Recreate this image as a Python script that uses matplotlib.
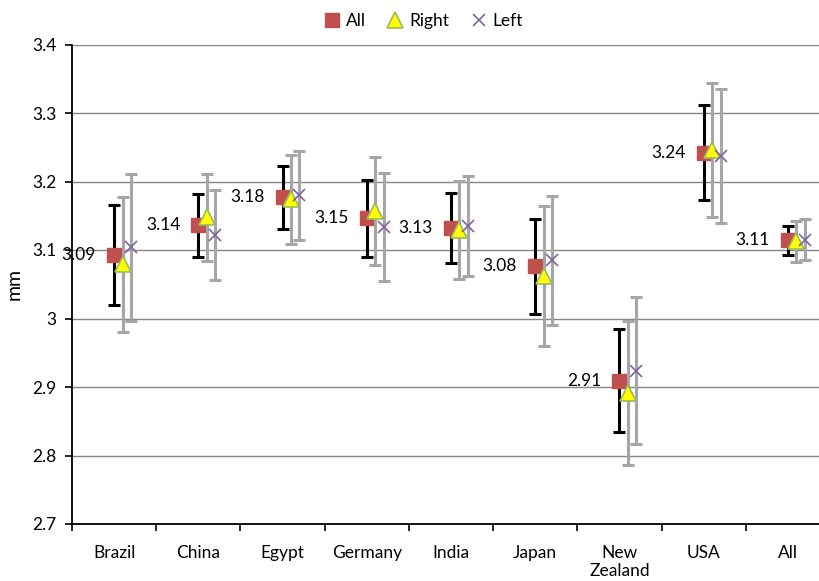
import matplotlib
matplotlib.use("Agg")
import matplotlib.pyplot as plt
import numpy as np

categories = ["Brazil", "China", "Egypt", "Germany", "India", "Japan", "New\nZealand", "USA", "All"]
all_mean = [3.092, 3.136, 3.177, 3.146, 3.132, 3.076, 2.909, 3.242, 3.114]
all_err = [0.073, 0.046, 0.046, 0.056, 0.051, 0.069, 0.075, 0.0695, 0.021]
right_mean = [3.079, 3.148, 3.174, 3.157, 3.129, 3.062, 2.891, 3.246, 3.113]
right_err = [0.099, 0.0635, 0.065, 0.079, 0.0715, 0.102, 0.1055, 0.0985, 0.030]
left_mean = [3.104, 3.122, 3.180, 3.134, 3.135, 3.085, 2.924, 3.237, 3.115]
left_err = [0.107, 0.0655, 0.065, 0.079, 0.0735, 0.094, 0.1075, 0.098, 0.030]
yticks = [2.7, 2.8, 2.9, 3.0, 3.1, 3.2, 3.3, 3.4]
ytick_labels = ["2.7", "2.8", "2.9", "3", "3.1", "3.2", "3.3", "3.4"]

plt.rcParams['font.family'] = ['Lato', 'DejaVu Sans']
FS = 12.5

W, H = 819, 581
fig = plt.figure(figsize=(W / 100, H / 100), dpi=100)
ax = fig.add_axes([72 / W, 57 / H, (830 - 72) / W, (524 - 44.5) / H])

x = np.arange(len(categories))

ax.set_ylim(2.7, 3.4)
ax.set_xlim(-0.5, len(categories) - 0.5)
ax.set_yticks(yticks)
ax.set_yticklabels(ytick_labels)
ax.yaxis.grid(True, color='#868686', lw=1)
ax.set_axisbelow(True)
ax.set_xticks(np.arange(len(categories) + 1) - 0.5, minor=False)
ax.set_xticklabels([])
ax.set_xticks(x, minor=True)
ax.set_xticklabels(categories, minor=True, fontsize=FS, linespacing=1.15)
ax.tick_params(axis='x', which='minor', length=0, pad=15)
ax.tick_params(axis='x', which='major', direction='out', length=5, width=1.2)
ax.tick_params(axis='y', direction='out', length=5, width=1.2, labelsize=FS, pad=6)
for s in ['top', 'right']:
    ax.spines[s].set_visible(False)
for s in ['left', 'bottom']:
    ax.spines[s].set_linewidth(1.3)
    ax.spines[s].set_color('black')

ax.set_ylabel("mm", fontsize=14, labelpad=7)

ax.errorbar(x, all_mean, yerr=all_err, fmt='none', ecolor='black', elinewidth=2.2,
            capsize=4, capthick=2.2, zorder=3)
h_all, = ax.plot(x, all_mean, ls='none', marker='s', ms=10, mfc='#C0504D', mec='#C0504D', zorder=4, label='All')
ax.errorbar(x + 0.1, right_mean, yerr=right_err, fmt='none', ecolor='#A6A6A6', elinewidth=2.2,
            capsize=4, capthick=2.2, zorder=5)
h_right, = ax.plot(x + 0.1, right_mean, ls='none', marker='^', ms=11, mfc='#FFFF00', mec='#9BBB59',
                   mew=1.2, zorder=6, label='Right')
ax.errorbar(x + 0.2, left_mean, yerr=left_err, fmt='none', ecolor='#A6A6A6', elinewidth=2.2,
            capsize=4, capthick=2.2, zorder=7)
h_left, = ax.plot(x + 0.2, left_mean, ls='none', marker='x', ms=9, mec='#8064A2', mew=1.2,
                  zorder=8, label='Left')

for xi, v in zip(x, all_mean):
    ax.annotate(f"{v:.2f}", (xi, v), xytext=(-13, 0), textcoords='offset points',
                ha='right', va='center', fontsize=FS, zorder=9)

fig.legend(handles=[h_all, h_right, h_left], loc='center', bbox_to_anchor=(423 / W, 1 - 21 / H),
           ncol=3, frameon=False, fontsize=FS, handlelength=1.0, handletextpad=0.3,
           columnspacing=1.2, numpoints=1)

fig.savefig("out.png", dpi=100)
